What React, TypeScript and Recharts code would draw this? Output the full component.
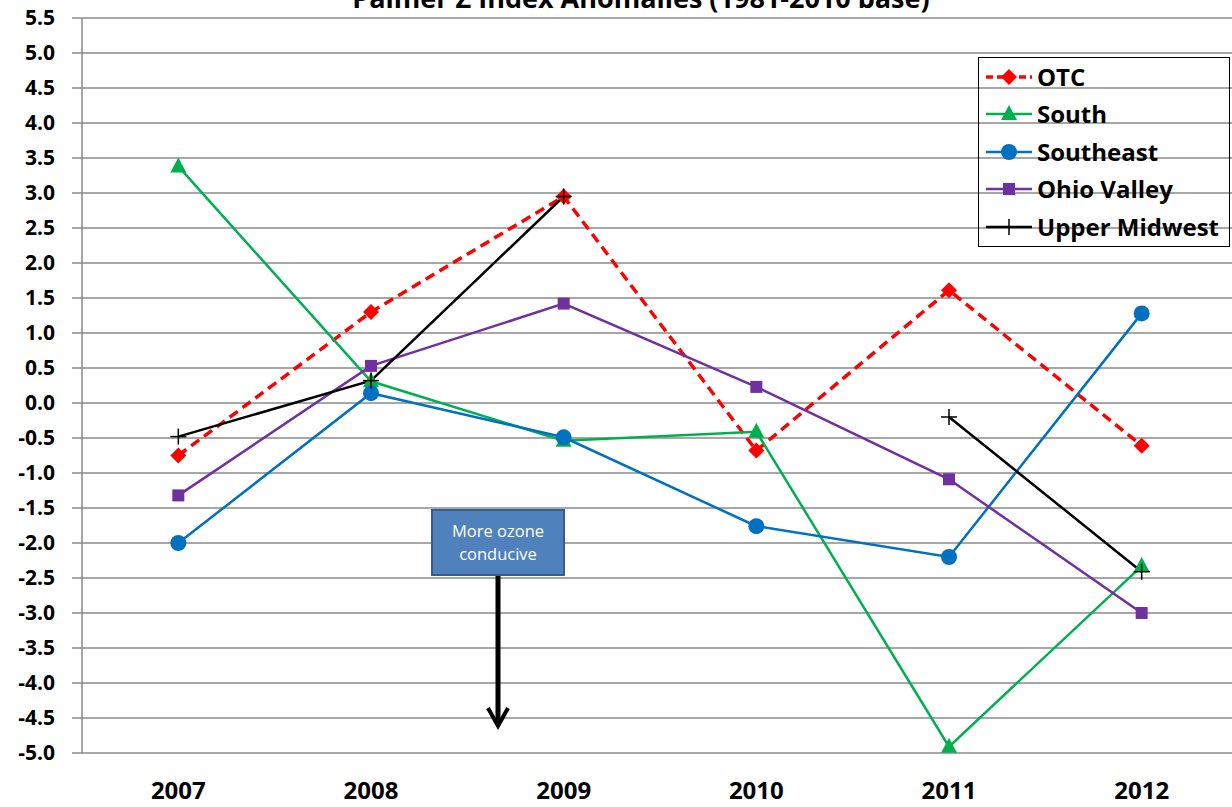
import {
  LineChart,
  Line,
  XAxis,
  YAxis,
  CartesianGrid,
} from "recharts";

const years = ["2007", "2008", "2009", "2010", "2011", "2012"];
const otc = [-0.75, 1.3, 2.95, -0.68, 1.61, -0.61];
const south = [3.38, 0.31, -0.54, -0.41, -4.91, -2.33];
const southeast = [-2.0, 0.14, -0.49, -1.76, -2.2, 1.28];
const ohioValley = [-1.32, 0.53, 1.42, 0.23, -1.09, -3.0];
const upperMidwest = [-0.48, 0.32, 2.95, null, -0.2, -2.41];
const yTicks = [
  -5, -4.5, -4, -3.5, -3, -2.5, -2, -1.5, -1, -0.5, 0, 0.5, 1, 1.5, 2, 2.5, 3,
  3.5, 4, 4.5, 5, 5.5,
];
const boundaryTicks = [0, 1, 2, 3, 4, 5, 6];

const data = years.map((year, i) => ({
  year,
  otc: otc[i],
  south: south[i],
  southeast: southeast[i],
  ohioValley: ohioValley[i],
  upperMidwest: upperMidwest[i],
}));

const GRID = "#8a8a8a";
const FONT = "'Open Sans', sans-serif";

type Shape = "diamond" | "triangle" | "circle" | "square" | "plus";

function Marker({ shape, cx, cy, color }: { shape: Shape; cx: number; cy: number; color: string }) {
  if (cx == null || cy == null) return <g />;
  switch (shape) {
    case "diamond":
      return <polygon points={`${cx},${cy - 8} ${cx + 8},${cy} ${cx},${cy + 8} ${cx - 8},${cy}`} fill={color} />;
    case "triangle":
      return <polygon points={`${cx},${cy - 9} ${cx + 8},${cy + 6} ${cx - 8},${cy + 6}`} fill={color} />;
    case "circle":
      return <circle cx={cx} cy={cy} r={8} fill={color} />;
    case "square":
      return <rect x={cx - 6} y={cy - 6} width={12} height={12} fill={color} />;
    default:
      return (
        <g stroke={color} strokeWidth={1.5}>
          <line x1={cx - 8} y1={cy} x2={cx + 8} y2={cy} />
          <line x1={cx} y1={cy - 8} x2={cx} y2={cy + 8} />
        </g>
      );
  }
}

const series: { key: string; name: string; color: string; shape: Shape; width: number; dash?: string }[] = [
  { key: "otc", name: "OTC", color: "#ff0000", shape: "diamond", width: 3.5, dash: "10 6" },
  { key: "south", name: "South", color: "#00b050", shape: "triangle", width: 2.5 },
  { key: "southeast", name: "Southeast", color: "#0070c0", shape: "circle", width: 2.5 },
  { key: "ohioValley", name: "Ohio Valley", color: "#7030a0", shape: "square", width: 2.5 },
  { key: "upperMidwest", name: "Upper Midwest", color: "#000000", shape: "plus", width: 2.5 },
];

function LegendBox() {
  return (
    <div
      style={{
        position: "absolute",
        left: 978,
        top: 57,
        border: "1.5px solid #000",
        boxSizing: "border-box",
        width: 252,
        height: 190,
        padding: "0 0 0 6px",
        fontFamily: FONT,
      }}
    >
      {series.map((s) => (
        <div key={s.key} style={{ display: "flex", alignItems: "center", height: 37.5 }}>
          <svg width={48} height={20} style={{ flex: "none" }}>
            <line x1={1} y1={10} x2={47} y2={10} stroke={s.color} strokeWidth={s.width} strokeDasharray={s.dash ? "7 4" : undefined} />
            <Marker shape={s.shape} cx={24} cy={10} color={s.color} />
          </svg>
          <span style={{ fontSize: 24, fontWeight: 700, color: "#000", marginLeft: 4, lineHeight: "24px" }}>{s.name}</span>
        </div>
      ))}
    </div>
  );
}

function Overlay() {
  return (
    <svg width={1232} height={807} style={{ position: "absolute", left: 0, top: 0, pointerEvents: "none" }}>
      <text x={641} y={8} textAnchor="middle" fontFamily={FONT} fontWeight={700} fontSize={27} fill="#000">
        Palmer Z Index Anomalies (1981-2010 base)
      </text>
      <rect x={432} y={510} width={132} height={65} fill="#4f81bd" stroke="#385d8a" strokeWidth={2} />
      <text x={498} y={537} textAnchor="middle" fontFamily={FONT} fontSize={16.5} fill="#fff">More ozone</text>
      <text x={498} y={560} textAnchor="middle" fontFamily={FONT} fontSize={16.5} fill="#fff">conducive</text>
      <line x1={498} y1={576} x2={498} y2={725} stroke="#000" strokeWidth={5} />
      <polyline points="488,708 498,726 508,708" fill="none" stroke="#000" strokeWidth={4} />
    </svg>
  );
}

const NoLabel = () => <g />;

export default function App() {
  return (
    <div style={{ position: "absolute", left: 0, top: 0, width: 1232, height: 807, overflow: "hidden", background: "#fff", fontFamily: FONT }}>
      <LineChart width={1240} height={807} data={data} margin={{ top: 18, right: 2, bottom: 0, left: 0 }}>
        <CartesianGrid vertical={false} stroke={GRID} strokeWidth={1.5} />
        <XAxis
          xAxisId="b"
          type="number"
          domain={[0, 6]}
          ticks={boundaryTicks}
          allowDataOverflow
          height={0}
          tick={<NoLabel />}
          tickSize={10}
          axisLine={{ stroke: GRID, strokeWidth: 1.5 }}
          tickLine={{ stroke: GRID, strokeWidth: 1.5 }}
        />
        <XAxis
          dataKey="year"
          scale="band"
          height={54}
          axisLine={false}
          tickLine={false}
          tickSize={0}
          tickMargin={29}
          tick={{ fill: "#000", fontSize: 24, fontWeight: 700, fontFamily: FONT }}
        />
        <YAxis
          width={82}
          domain={[-5, 5.5]}
          ticks={yTicks}
          interval={0}
          allowDataOverflow
          tickFormatter={(v: number) => v.toFixed(1)}
          tickSize={10}
          tickMargin={17}
          axisLine={{ stroke: GRID, strokeWidth: 1.5 }}
          tickLine={{ stroke: GRID, strokeWidth: 1.5 }}
          tick={{ fill: "#000", fontSize: 21, fontWeight: 700, fontFamily: FONT }}
        />
        {series.map((s) => (
          <Line
            key={s.key}
            dataKey={s.key}
            name={s.name}
            stroke={s.color}
            strokeWidth={s.width}
            strokeDasharray={s.dash}
            isAnimationActive={false}
            connectNulls={false}
            dot={(p: any) => <Marker key={`${s.key}-${p.index}`} shape={s.shape} cx={p.cx} cy={p.cy} color={s.color} />}
            activeDot={false}
          />
        ))}
      </LineChart>
      <LegendBox />
      <Overlay />
    </div>
  );
}
